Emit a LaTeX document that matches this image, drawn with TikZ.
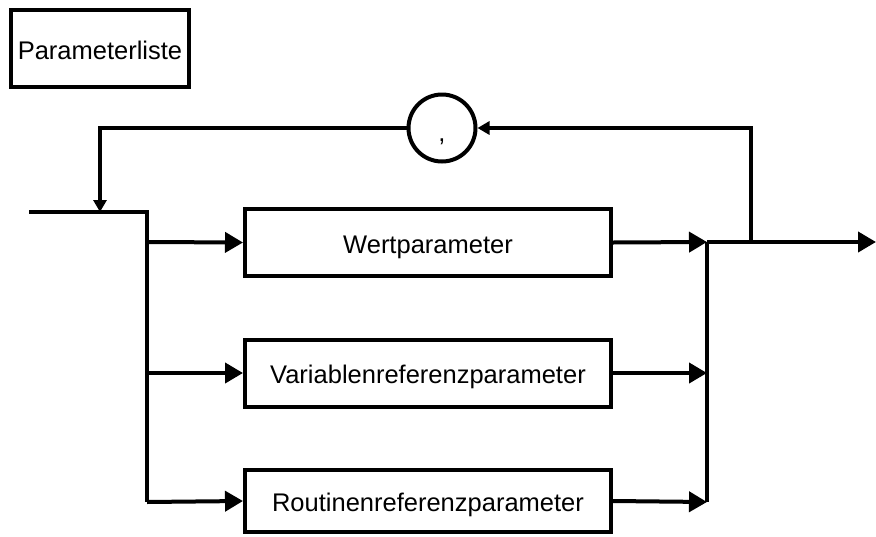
\documentclass[tikz,border=0pt]{standalone}
\usepackage{fontspec}
\setmainfont{Liberation Sans}
\usetikzlibrary{arrows.meta}
\begin{document}
\begin{tikzpicture}[x=1pt,y=-1pt,
  line width=4pt,
  every node/.style={font=\fontsize{25.5}{30}\selectfont},
  box/.style={draw, line width=4pt, minimum width=366pt, minimum height=67pt, inner sep=0pt,
    text height=21pt, text depth=0pt},
  titlebox/.style={draw, line width=4pt, minimum width=178pt, minimum height=77pt, inner sep=0pt,
    text height=21pt, text depth=0pt},
  sep/.style={draw, circle, line width=4pt, minimum size=67pt, inner sep=0pt},
  big/.style={-{Triangle[length=18pt,width=20pt]}},
  small/.style={-{Triangle[length=12pt,width=13pt]}}]
  \useasboundingbox (0,0) rectangle (876,536);

  % heading
  \node[titlebox] (title) at (100,48.5) {Parameterliste};

  % alternatives
  \node[box] (wert) at (428,242.5) {Wertparameter};
  \node[box] (var)  at (428,373) {Variablenreferenzparameter};
  \node[box, minimum height=62pt] (rout) at (428,501) {Routinenreferenzparameter};

  % separator of the repetition
  \node[sep] (comma) at (442,128) {};
  \node[anchor=base, inner sep=0pt] (commatext) at (442,141) {,};

  % junction points
  \coordinate (in)    at (29,212);
  \coordinate (join)  at (100,212);
  \coordinate (ltop)  at (147,212);
  \coordinate (lw)    at (147,242);
  \coordinate (lv)    at (147,373);
  \coordinate (lr)    at (147,502);
  \coordinate (rw)    at (707,242);
  \coordinate (rv)    at (707,373);
  \coordinate (rr)    at (707,502);
  \coordinate (back)  at (751,242);
  \coordinate (out)   at (876,242);

  % entry and left bus
  \draw (in) -- (ltop) -- (lr);
  \draw[big] (lw) -- (wert.west);
  \draw[big] (lv) -- (var.west);
  \draw[big] (lr) -- (rout.west);

  % right bus and exit
  \draw[big] (wert.east) -- (rw);
  \draw[big] (var.east) -- (rv);
  \draw[big] (rout.east) -- (rr);
  \draw (rw) -- (rr);
  \draw[big] (rw) -- (out);

  % loop back through the comma
  \draw[small] (back) -- (back |- comma) -- (comma.east);
  \draw[small] (comma.west) -- (join |- comma) -- (join);
\end{tikzpicture}
\end{document}
